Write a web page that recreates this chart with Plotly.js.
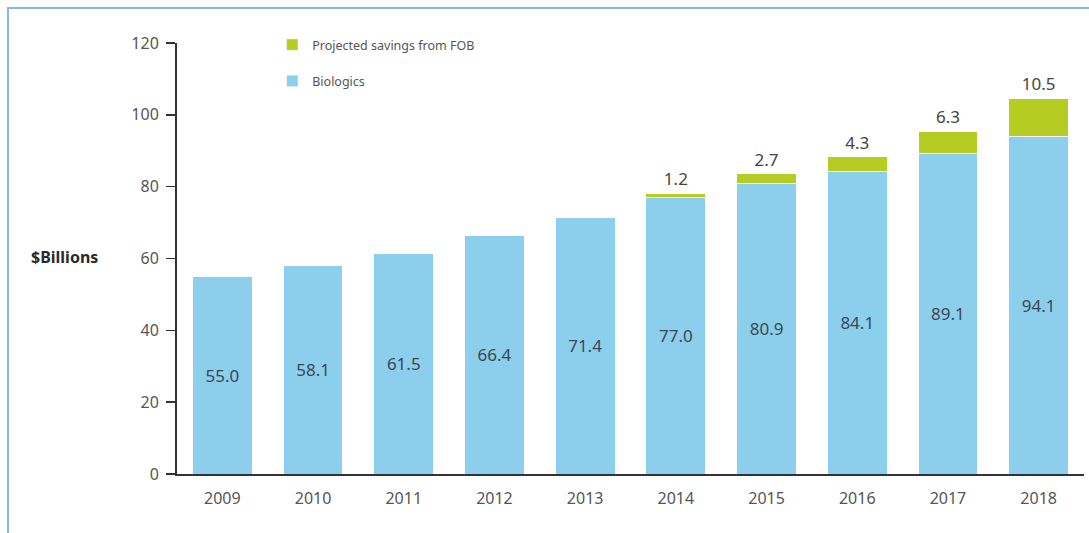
<!DOCTYPE html>
<html>
<head>
<meta charset="utf-8">
<script src="https://cdn.plot.ly/plotly-3.0.1.min.js"></script>
<style>
  html, body { margin: 0; padding: 0; background: #fff; overflow: hidden; }
  #frame { position: absolute; left: 7px; top: 7px; width: 1200px; height: 600px;
           border-top: 2px solid #85b8e8; border-left: 2px solid #85b8e8; }
  #chart { position: absolute; left: 0; top: 0; width: 1089px; height: 533px; }
</style>
</head>
<body>
<div id="frame"></div>
<div id="chart"></div>
<script>
// values
let years = ['2009', '2010', '2011', '2012', '2013', '2014', '2015', '2016', '2017', '2018'];
let biologics = [55.0, 58.1, 61.5, 66.4, 71.4, 77.0, 80.9, 84.1, 89.1, 94.1];
let savings = [null, null, null, null, null, 1.2, 2.7, 4.3, 6.3, 10.5];

let font = 'Noto Sans, Open Sans, sans-serif';

var bioTrace = {
    x: years,
    y: biologics,
    type: 'bar',
    name: 'Biologics',
    legendgroup: 'bio',
    legendrank: 2,
    marker: { color: '#8bcfec', line: { color: '#ffffff', width: 1 } },
    text: biologics.map(v => v.toFixed(1)),
    textposition: 'inside',
    insidetextanchor: 'middle',
    textfont: { color: '#3d4752', size: 17, family: font },
    hoverinfo: 'x+y'
};

var fobTrace = {
    x: years,
    y: savings,
    type: 'bar',
    name: 'Projected savings from FOB',
    legendgroup: 'fob',
    legendrank: 1,
    marker: { color: '#b5cc22', line: { color: '#ffffff', width: 1 } },
    text: savings.map(v => v == null ? '' : v.toFixed(1)),
    textposition: 'outside',
    textfont: { color: '#444', size: 17, family: font },
    cliponaxis: false,
    hoverinfo: 'x+y'
};

var layout = {
    width: 1089,
    height: 533,
    paper_bgcolor: 'rgba(0,0,0,0)',
    plot_bgcolor: 'rgba(0,0,0,0)',
    barmode: 'stack',
    bargap: 0.34,
    font: { family: font, color: '#555' },
    margin: { l: 177, r: 5, t: 43, b: 59, pad: 0 },
    showlegend: true,
    legend: {
        x: 0.105, y: 1.03, xanchor: 'left', yanchor: 'top',
        traceorder: 'grouped',
        tracegroupgap: 17,
        font: { size: 12.5, color: '#555', family: font },
        bgcolor: 'rgba(0,0,0,0)'
    },
    xaxis: {
        type: 'category',
        showline: true, linecolor: '#333', linewidth: 2,
        ticks: '', showgrid: false, zeroline: false,
        tickfont: { size: 16, color: '#555', family: font },
        ticklabelstandoff: 9
    },
    yaxis: {
        range: [0, 120],
        dtick: 20,
        showline: true, linecolor: '#333', linewidth: 2,
        ticks: 'outside', ticklen: 9, tickwidth: 1.5, tickcolor: '#333',
        showgrid: false, zeroline: false,
        tickfont: { size: 16, color: '#555', family: font },
        ticklabelstandoff: 4
    },
    annotations: [{
        text: '<b>$Billions</b>',
        xref: 'paper', yref: 'y',
        x: -0.085, y: 60.5,
        xanchor: 'right', yanchor: 'middle',
        showarrow: false,
        font: { size: 16, color: '#2a2a2a', family: font }
    }]
};

Plotly.newPlot('chart', [bioTrace, fobTrace], layout, { displayModeBar: false, staticPlot: true });
</script>
</body>
</html>
